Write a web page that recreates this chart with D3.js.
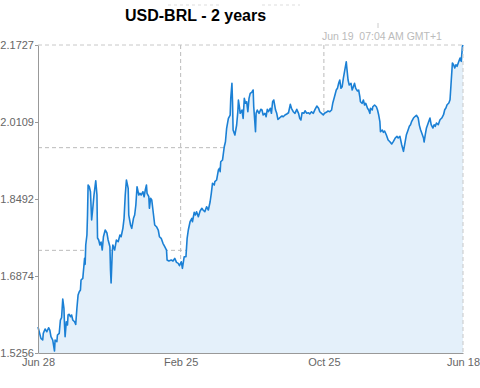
<!DOCTYPE html>
<html>
<head>
<meta charset="utf-8">
<script src="https://cdn.jsdelivr.net/npm/d3@7"></script>
<style>
  body { margin: 0; background: #fff; }
  text { font-family: "Liberation Sans", Arial, sans-serif; }
</style>
</head>
<body>
<div id="vis"></div>
<script>
// USD-BRL, 2 years, days counted from the first date
let startDate = new Date(2011, 5, 28)
let endDate = new Date(2013, 5, 18)

let days = [0,5,8,9,12,15,18,20,22,25,28,29,32,33,36,38,40,42,44,45,46,48,50,51,53,55,57,59,62,64,
  66,68,70,72,73,76,78,79,80,81,83,84,85,87,89,91,93,95,98,100,101,103,105,107,109,111,114,117,119,122,
  123,124,126,127,130,133,136,139,141,144,146,148,150,153,154,157,159,162,164,166,168,171,173,175,178,180,182,184,185,188,
  189,191,193,196,198,201,204,206,209,212,215,218,219,222,226,229,232,235,238,240,243,245,248,251,253,255,258,261,262,265,
  267,269,272,275,278,280,283,286,289,292,294,296,299,300,303,306,308,309,310,313,316,318,320,323,326,327,329,330,331,334,
  337,339,340,342,343,346,348,350,352,354,356,358,360,363,365,366,369,370,372,375,378,380,382,385,387,389,391,394,396,398,
  400,403,405,407,409,412,414,416,419,422,425,428,430,433,436,439,442,444,446,448,451,453,456,459,461,464,467,470,473,476,
  478,481,484,486,489,492,495,498,500,503,506,508,510,512,514,516,518,520,523,524,526,528,531,533,535,537,539,542,544,546,
  547,550,552,554,556,559,561,563,564,567,568,571,574,576,578,580,581,584,586,588,591,594,597,600,603,606,609,611,614,617,
  620,623,625,628,630,632,634,637,640,642,645,647,649,651,654,655,657,659,662,665,667,670,672,674,676,679,682,685,688,690,
  692,694,697,699,701,703,705,707,709,711,714,716,718,720,721]

let rates = [1.5802,1.5564,1.5529,1.5669,1.5760,1.5703,1.5787,1.5739,1.5598,1.5529,1.5297,1.5529,1.5493,1.5634,1.5669,1.5949,1.5997,1.6390,1.6195,1.5844,
  1.5598,1.5913,1.5844,1.6054,1.6069,1.6018,1.6054,1.5949,1.5913,1.5858,1.6195,1.6474,1.6543,1.6579,1.6789,1.6825,1.7104,1.7245,1.7119,1.7525,
  1.7735,1.8155,1.8785,1.8749,1.8644,1.8050,1.8302,1.8575,1.8876,1.8575,1.7672,1.7630,1.7525,1.7588,1.7419,1.7699,1.7840,1.7777,1.7630,1.7489,
  1.6999,1.6726,1.7384,1.7525,1.7419,1.7630,1.7594,1.7735,1.7699,1.7875,1.8085,1.8575,1.8890,1.8716,1.8155,1.7945,1.7875,1.8085,1.8155,1.8365,
  1.8749,1.8575,1.8611,1.8575,1.8644,1.8539,1.8680,1.8785,1.8611,1.8539,1.8296,1.8506,1.8470,1.8155,1.7945,1.7909,1.7840,1.7699,1.7665,1.7560,
  1.7489,1.7419,1.7209,1.7188,1.7209,1.7188,1.7245,1.7161,1.7140,1.7090,1.7174,1.7035,1.7279,1.7279,1.7665,1.7840,1.8014,1.8085,1.8014,1.8212,
  1.8155,1.8224,1.8119,1.8239,1.8296,1.8260,1.8224,1.8329,1.8260,1.8434,1.8611,1.8821,1.8785,1.8855,1.8890,1.9100,1.9136,1.9065,1.9275,1.9310,
  1.9590,1.9695,1.9976,2.0186,2.0256,2.0607,2.0922,2.0535,1.9941,1.9836,2.0046,2.0325,2.0571,2.0397,2.0292,2.0361,2.0186,2.0607,2.0502,2.0535,
  2.0325,2.0607,2.0712,2.0739,2.0781,2.0430,1.9905,2.0292,2.0361,2.0292,2.0376,2.0361,2.0256,2.0292,2.0220,2.0376,2.0325,2.0397,2.0292,2.0535,
  2.0571,2.0361,2.0292,2.0165,2.0186,2.0220,2.0235,2.0220,2.0256,2.0277,2.0304,2.0481,2.0397,2.0325,2.0292,2.0376,2.0292,2.0186,2.0151,2.0304,
  2.0292,2.0346,2.0292,2.0304,2.0277,2.0325,2.0292,2.0376,2.0445,2.0397,2.0325,2.0292,2.0256,2.0292,2.0313,2.0340,2.0325,2.0361,2.0502,2.0640,
  2.0781,2.0817,2.0922,2.0991,2.0817,2.0850,2.1027,2.1166,2.1376,2.1237,2.0991,2.0886,2.0922,2.0781,2.0850,2.0922,2.0817,2.0760,2.0781,2.0640,
  2.0535,2.0502,2.0571,2.0466,2.0502,2.0397,2.0361,2.0292,2.0397,2.0361,2.0430,2.0466,2.0430,2.0361,2.0256,2.0115,1.9905,1.9941,1.9892,1.9920,
  1.9836,1.9731,1.9695,1.9647,1.9703,1.9773,1.9808,1.9773,1.9808,1.9632,1.9493,1.9703,1.9842,1.9947,2.0018,2.0052,2.0123,2.0193,2.0229,2.0250,
  2.0193,2.0039,1.9947,1.9878,1.9773,1.9689,1.9842,1.9983,2.0088,2.0193,2.0052,1.9983,2.0052,2.0018,2.0088,2.0052,2.0157,2.0193,2.0262,2.0367,
  2.0403,2.0472,2.0508,2.0577,2.0964,2.1348,2.1313,2.1243,2.1313,2.1279,2.1384,2.1453,2.1384,2.1699,2.1727]

let yTicks = [1.5256, 1.6874, 1.8492, 2.0109, 2.1727]
let xTicks = [new Date(2011, 5, 28), new Date(2012, 1, 25), new Date(2012, 9, 25), new Date(2013, 5, 18)]
let gridDates = [new Date(2012, 1, 25), new Date(2012, 9, 25)]
let gridRates = [1.7413, 1.9570]

let data = days.map((d, i) => ({date: d3.timeDay.offset(startDate, d), value: rates[i]}))

function draw(){
    let svg = d3.select("#vis")
                    .append('svg')
                    .attr('width', 480)
                    .attr('height', 388)

    let left = 38, right = 463, top = 45, bottom = 353

    let x = d3.scaleTime().domain([startDate, endDate]).range([left, right])
    let y = d3.scaleLinear().domain([yTicks[0], yTicks[yTicks.length - 1]]).range([bottom, top])

    // dashed grid, drawn first so the fill hides it
    svg.selectAll('.gx')
        .data(gridDates)
        .enter().append('line')
        .attr('x1', d => x(d)).attr('x2', d => x(d))
        .attr('y1', top).attr('y2', bottom)
        .attr('stroke', '#bbb').attr('stroke-dasharray', '4,3')

    svg.selectAll('.gy')
        .data(gridRates)
        .enter().append('line')
        .attr('x1', left).attr('x2', right)
        .attr('y1', d => y(d)).attr('y2', d => y(d))
        .attr('stroke', '#bbb').attr('stroke-dasharray', '4,3')

    let area = d3.area()
        .x(d => x(d.date))
        .y0(bottom)
        .y1(d => y(d.value))

    let line = d3.line()
        .x(d => x(d.date))
        .y(d => y(d.value))

    svg.append('path')
        .datum(data)
        .attr('d', area)
        .attr('fill', '#e4f0fa')

    svg.append('path')
        .datum(data)
        .attr('d', line)
        .attr('fill', 'none')
        .attr('stroke', '#1b80d5')
        .attr('stroke-width', 1.6)
        .attr('stroke-linejoin', 'round')

    // top and right frame, dashed
    svg.append('path')
        .attr('d', `M${left},${top}H${right}V${bottom}`)
        .attr('fill', 'none')
        .attr('stroke', '#c8c8c8')
        .attr('stroke-dasharray', '4,3')

    // axes
    let yAxis = svg.append('g')
        .attr('transform', `translate(${left},0)`)
        .call(d3.axisLeft(y).tickValues(yTicks).tickFormat(d3.format('.4f')).tickSize(3).tickSizeOuter(0))
    yAxis.select('.domain').attr('stroke', '#999')
    yAxis.selectAll('.tick line').attr('stroke', '#999')
    yAxis.selectAll('.tick text')
        .attr('fill', '#666')
        .style('font-size', '11px')
        .attr('x', -4)

    let xAxis = svg.append('g')
        .attr('transform', `translate(0,${bottom})`)
        .call(d3.axisBottom(x).tickValues(xTicks).tickFormat(d3.timeFormat('%b %d')).tickSize(0).tickSizeOuter(0))
    xAxis.select('.domain').attr('stroke', '#999')
    xAxis.selectAll('.tick text')
        .attr('fill', '#666')
        .style('font-size', '11px')
        .attr('dy', '0.95em')

    // title
    svg.append('text')
        .attr('x', 125)
        .attr('y', 21)
        .style('font-size', '16px')
        .style('font-weight', 'bold')
        .attr('fill', '#000')
        .text('USD-BRL - 2 years')

    // time stamp
    svg.append('text')
        .attr('x', 322)
        .attr('y', 40)
        .style('font-size', '10.5px')
        .style('white-space', 'pre')
        .attr('fill', '#bbb')
        .text('Jun 19  07:04 AM GMT+1')

    svg.append('line')
        .attr('x1', 378).attr('x2', 378)
        .attr('y1', 23).attr('y2', 28)
        .attr('stroke', '#ccc')

    svg.append('line')
        .attr('x1', 168).attr('x2', 222)
        .attr('y1', 5).attr('y2', 5)
        .attr('stroke', '#ddd').attr('stroke-dasharray', '3,3')
    svg.append('line')
        .attr('x1', 262).attr('x2', 300)
        .attr('y1', 5).attr('y2', 5)
        .attr('stroke', '#ddd').attr('stroke-dasharray', '3,3')
}

draw()
</script>
</body>
</html>
